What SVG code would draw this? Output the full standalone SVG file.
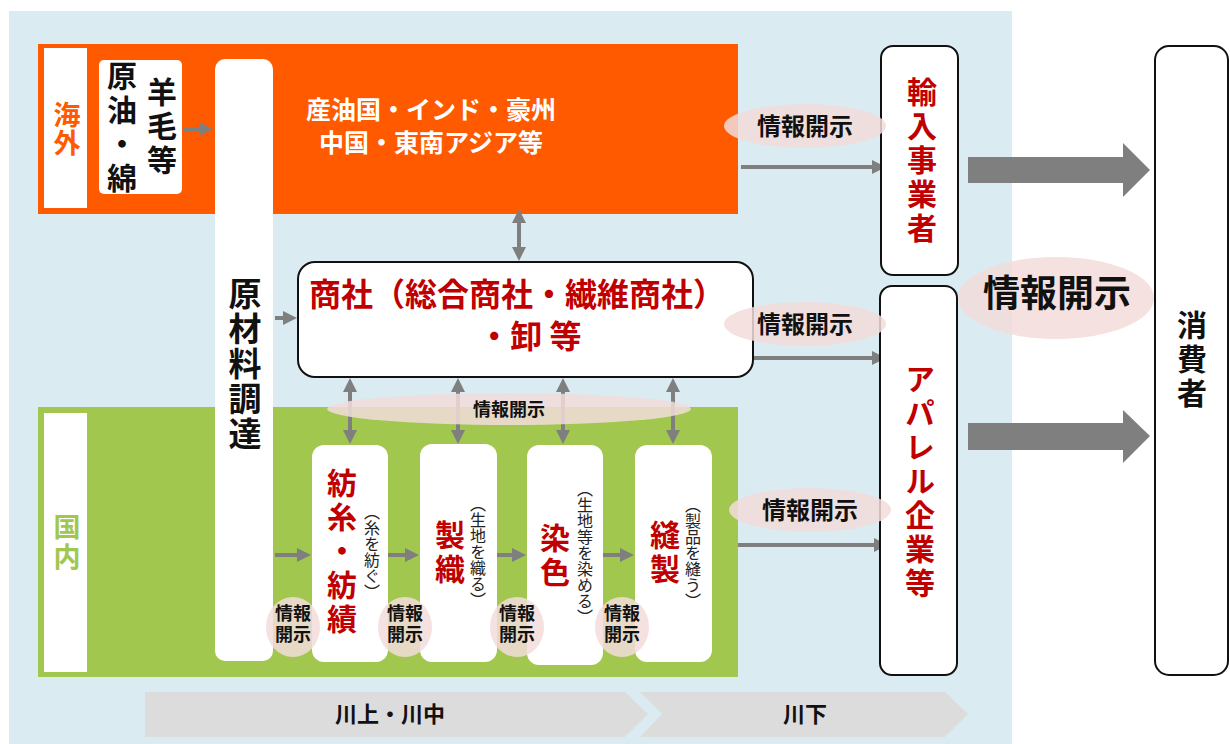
<svg xmlns="http://www.w3.org/2000/svg" width="1230" height="744" viewBox="0 0 1230 744">
<style>
text{font-family:"Noto Sans CJK JP","Noto Sans CJK SC",sans-serif;font-weight:700}
.v{writing-mode:vertical-rl;text-anchor:middle}
.blk{fill:#111}
.red{fill:#C00000}
.wbox{fill:#fff}
.obox{fill:#fff;stroke:#111;stroke-width:2}
.ell{fill:#F2DCDB;opacity:0.85}
.arr{stroke:#7F7F7F;stroke-width:4;fill:none;marker-end:url(#ah)}
.darr{stroke:#7F7F7F;stroke-width:4;fill:none;marker-end:url(#ah);marker-start:url(#ah)}
.big{fill:#7F7F7F}
.sm{font-size:16px;font-weight:400;fill:#222;writing-mode:vertical-rl;text-anchor:middle}
.chev{fill:#DCDCDC}
</style>
<defs>
<marker id="ah" markerUnits="userSpaceOnUse" markerWidth="14" markerHeight="14" refX="4" refY="7" orient="auto-start-reverse">
<path d="M0,0 L14,7 L0,14 z" fill="#7F7F7F"/>
</marker>
</defs>

<rect x="9" y="11" width="1003" height="733" fill="#DAECF2"/>

<g id="overseas">
<rect x="38" y="44" width="700" height="170" fill="#FF5A00"/>
<rect x="44" y="48" width="43" height="160" fill="#fff"/>
<text class="v" font-size="27" fill="#FF5A00" x="67" y="129" letter-spacing="1">海外</text>
<text font-size="25" fill="#fff" text-anchor="middle" x="431" y="119">産油国・インド・豪州</text>
<text font-size="25" fill="#fff" text-anchor="middle" x="431" y="152">中国・東南アジア等</text>
</g>

<g id="domestic">
<rect x="38" y="407" width="700" height="270" fill="#A2C74E"/>
<rect x="44" y="413" width="43" height="259" fill="#fff"/>
<text class="v" font-size="27" fill="#A2C74E" x="67" y="543" letter-spacing="3">国内</text>
</g>

<g id="bands">
<polygon class="chev" points="145,692 625,692 648,714 625,737 145,737"/>
<polygon class="chev" points="640,692 945,692 968,714 945,737 640,737 662,714"/>
<text font-size="22" class="blk" text-anchor="middle" x="390" y="722">川上・川中</text>
<text font-size="22" class="blk" text-anchor="middle" x="805" y="722">川下</text>
</g>

<g id="connectors">
<line class="arr" x1="183" y1="129" x2="203" y2="129"/>
<line class="arr" x1="275" y1="318" x2="287" y2="318"/>
<line class="darr" x1="519" y1="219" x2="519" y2="251"/>
<line class="darr" x1="350" y1="388" x2="350" y2="434"/>
<line class="darr" x1="458" y1="388" x2="458" y2="434"/>
<line class="darr" x1="563" y1="388" x2="563" y2="434"/>
<line class="darr" x1="673" y1="388" x2="673" y2="434"/>
<line class="arr" x1="275" y1="555" x2="301" y2="555"/>
<line class="arr" x1="388" y1="555" x2="409" y2="555"/>
<line class="arr" x1="497" y1="555" x2="516" y2="555"/>
<line class="arr" x1="603" y1="555" x2="624" y2="555"/>
<line class="arr" x1="741" y1="167" x2="876" y2="167"/>
<line class="arr" x1="754" y1="358" x2="876" y2="358"/>
<line class="arr" x1="738" y1="545" x2="878" y2="545"/>
<polygon class="big" points="968,157 1123,157 1123,143 1150,170 1123,197 1123,183 968,183"/>
<polygon class="big" points="968,423 1123,423 1123,410 1150,436 1123,463 1123,450 968,450"/>
</g>

<g id="raw">
<rect class="wbox" x="99" y="60" width="83" height="134" rx="5"/>
<text class="v blk" font-size="30" x="122" y="129" letter-spacing="4">原油・綿</text>
<text class="v blk" font-size="30" x="162" y="128" letter-spacing="4">羊毛等</text>
</g>

<g id="procure">
<rect class="wbox" x="215" y="59" width="58" height="602" rx="10"/>
<text class="v blk" font-size="33" x="245" y="364" letter-spacing="2">原材料調達</text>
</g>

<g id="trading">
<rect class="obox" x="298" y="262" width="455" height="115" rx="17"/>
<text font-size="32" class="red" text-anchor="middle" x="517" y="306">商社（総合商社・繊維商社）</text>
<text font-size="32" class="red" text-anchor="middle" x="530" y="348">・卸 等</text>
</g>

<g id="spin">
<rect class="wbox" x="312" y="445" width="76" height="217" rx="12"/>
<text class="v red" font-size="30" x="342" y="553" letter-spacing="4">紡糸・紡績</text>
<text class="sm" x="372" y="552">（糸を紡ぐ）</text>
</g>

<g id="weave">
<rect class="wbox" x="420" y="444" width="77" height="218" rx="12"/>
<text class="v red" font-size="30" x="450" y="554" letter-spacing="4">製織</text>
<text class="sm" x="478" y="552">（生地を織る）</text>
</g>

<g id="dye">
<rect class="wbox" x="527" y="445" width="76" height="220" rx="12"/>
<text class="v red" font-size="30" x="555" y="557" letter-spacing="4">染色</text>
<text class="sm" x="585" y="553">（生地等を染める）</text>
</g>

<g id="sew">
<rect class="wbox" x="635" y="445" width="77" height="217" rx="12"/>
<text class="v red" font-size="30" x="665" y="554" letter-spacing="4">縫製</text>
<text class="sm" x="693" y="553">（製品を縫う）</text>
</g>

<g id="importer">
<rect class="obox" x="881" y="46" width="77" height="229" rx="12"/>
<text class="v red" font-size="30" x="922" y="162" letter-spacing="4">輸入事業者</text>
</g>

<g id="apparel">
<rect class="obox" x="880" y="286" width="77" height="389" rx="12"/>
<text class="v red" font-size="30" x="920" y="483" letter-spacing="4">アパレル企業等</text>
</g>

<g id="consumer">
<rect class="obox" x="1155" y="46" width="73" height="629" rx="14"/>
<text class="v blk" font-size="30" x="1192" y="361" letter-spacing="4">消費者</text>
</g>

<g id="disclosure">
<ellipse class="ell" cx="509" cy="409" rx="182" ry="16"/>
<text font-size="18" class="blk" text-anchor="middle" x="509" y="416">情報開示</text>
<ellipse class="ell" cx="805" cy="126" rx="81" ry="22"/>
<text font-size="24" class="blk" text-anchor="middle" x="805" y="135">情報開示</text>
<ellipse class="ell" cx="805" cy="324" rx="81" ry="22"/>
<text font-size="24" class="blk" text-anchor="middle" x="805" y="333">情報開示</text>
<ellipse class="ell" cx="810" cy="510" rx="81" ry="22"/>
<text font-size="24" class="blk" text-anchor="middle" x="810" y="519">情報開示</text>
<ellipse class="ell" cx="1056" cy="298" rx="98" ry="41"/>
<text font-size="37" class="blk" text-anchor="middle" x="1057" y="307">情報開示</text>
<ellipse class="ell" cx="293" cy="627" rx="27" ry="30"/>
<text font-size="18" class="blk" text-anchor="middle"><tspan x="293" y="620">情報</tspan><tspan x="293" y="641">開示</tspan></text>
<ellipse class="ell" cx="405" cy="627" rx="27" ry="30"/>
<text font-size="18" class="blk" text-anchor="middle"><tspan x="405" y="620">情報</tspan><tspan x="405" y="641">開示</tspan></text>
<ellipse class="ell" cx="517" cy="627" rx="27" ry="30"/>
<text font-size="18" class="blk" text-anchor="middle"><tspan x="517" y="620">情報</tspan><tspan x="517" y="641">開示</tspan></text>
<ellipse class="ell" cx="622" cy="627" rx="27" ry="30"/>
<text font-size="18" class="blk" text-anchor="middle"><tspan x="622" y="620">情報</tspan><tspan x="622" y="641">開示</tspan></text>
</g>
</svg>
